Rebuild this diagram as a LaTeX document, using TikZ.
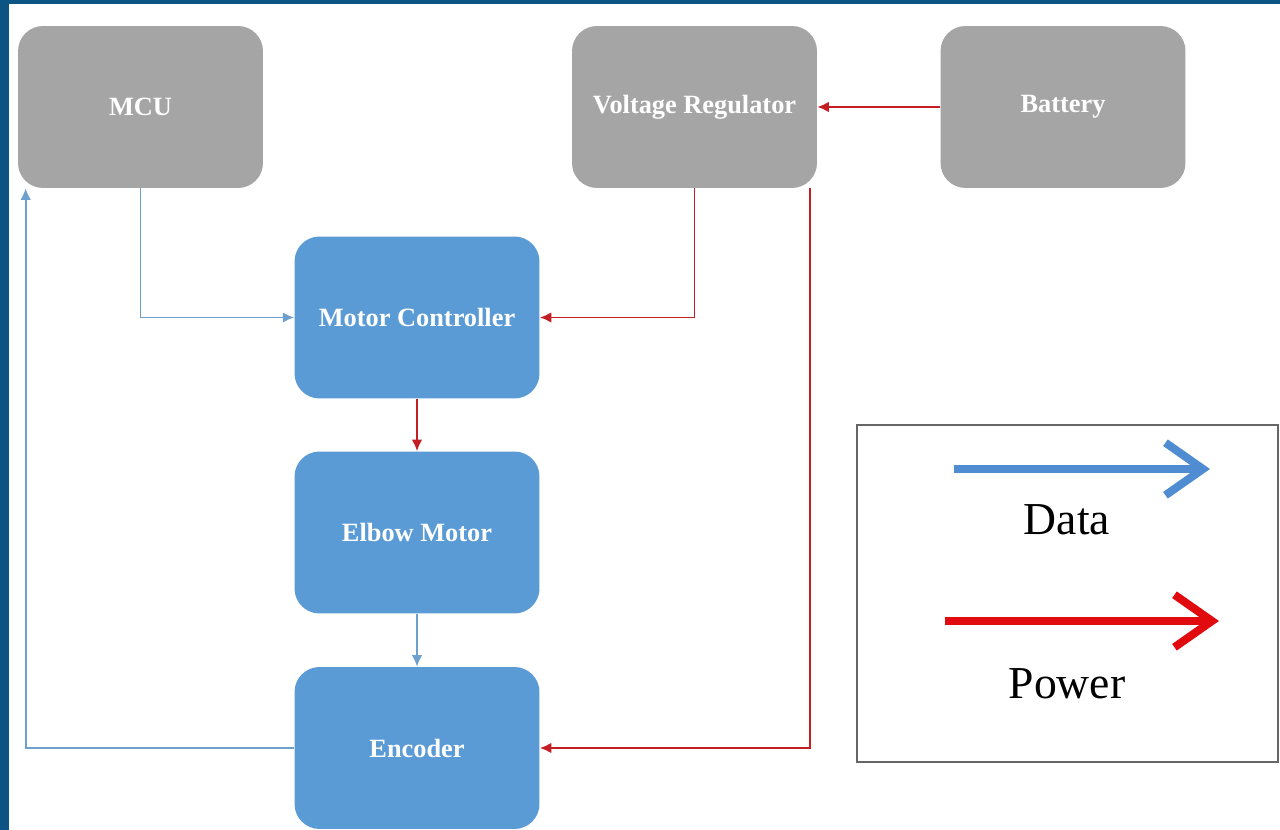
\documentclass[tikz,border=0pt]{standalone}
\usepackage{fontspec}
\setmainfont{Liberation Serif}
\usepackage{tikz}
\usetikzlibrary{shapes,arrows,arrows.meta,positioning,fit,calc}
\usepackage{xcolor}

\definecolor{frameblue}{RGB}{12,84,132}
\definecolor{unitgray}{RGB}{165,165,165}
\definecolor{unitblue}{RGB}{91,155,213}
\definecolor{dataline}{RGB}{110,160,205}
\definecolor{powerline}{RGB}{195,30,35}
\definecolor{legendred}{RGB}{225,10,15}
\definecolor{legendblue}{RGB}{80,140,210}

\begin{document}
\begin{tikzpicture}[
  x=0.02cm, y=-0.02cm,
  unit/.style={rectangle, rounded corners=0.5cm, minimum width=4.9cm, minimum height=3.24cm, inner sep=0pt, align=center, text=white, font=\bfseries\fontsize{15}{18}\selectfont},
  data/.style={-{Latex[length=6.5pt, width=6pt]}, draw=dataline, line width=1.1pt},
  power/.style={-{Latex[length=6.5pt, width=6pt]}, draw=powerline, line width=1.1pt},
  keyarrow/.style={line width=4.6pt, -{Straight Barb[length=0.75cm, width=1.05cm]}},
  keytext/.style={font=\fontsize{26}{30}\selectfont}
]
  \useasboundingbox (0,0) rectangle (1280,830);
  \fill[white] (0,0) rectangle (1280,830);
  \fill[frameblue] (0,0) rectangle (9,830);
  \fill[frameblue] (0,0) rectangle (1280,4);

  % units
  \node[unit, fill=unitgray] (mcu) at (140.5,107) {MCU};
  \node[unit, fill=unitgray] (vreg) at (694.5,107) {Voltage Regulator};
  \node[unit, fill=unitgray] (battery) at (1063,107) {Battery};
  \node[unit, fill=unitblue] (motorctrl) at (417,317.5) {Motor Controller};
  \node[unit, fill=unitblue] (elbow) at (417,532.5) {Elbow Motor};
  \node[unit, fill=unitblue] (encoder) at (417,748) {Encoder};

  % connections
  \draw[data] (mcu.south) |- (motorctrl.west);
  \draw[power] (vreg.south) |- (motorctrl.east);
  \draw[power] (battery.west) -- (vreg.east);
  \draw[power] ($(vreg.south east)+(-7,0)$) |- (encoder.east);
  \draw[power] (motorctrl) -- (elbow);
  \draw[data] (elbow) -- (encoder);
  \draw[data] (encoder.west) -| ($(mcu.south west)+(8,0)$);

  % legend
  \node[draw=black!60, line width=1.2pt, minimum width=8.42cm, minimum height=6.74cm, inner sep=0pt] (legend) at (1067.5,593.5) {};
  \coordinate (datafrom) at (954,469);
  \coordinate (datato) at (1210,469);
  \coordinate (powerfrom) at (945,621);
  \coordinate (powerto) at (1219,621);
  \draw[keyarrow, legendblue] (datafrom) -- (datato);
  \draw[keyarrow, legendred] (powerfrom) -- (powerto);
  \node[keytext] (datalabel) at (1067,520) {Data};
  \node[keytext] (powerlabel) at (1067,684) {Power};
\end{tikzpicture}
\end{document}
